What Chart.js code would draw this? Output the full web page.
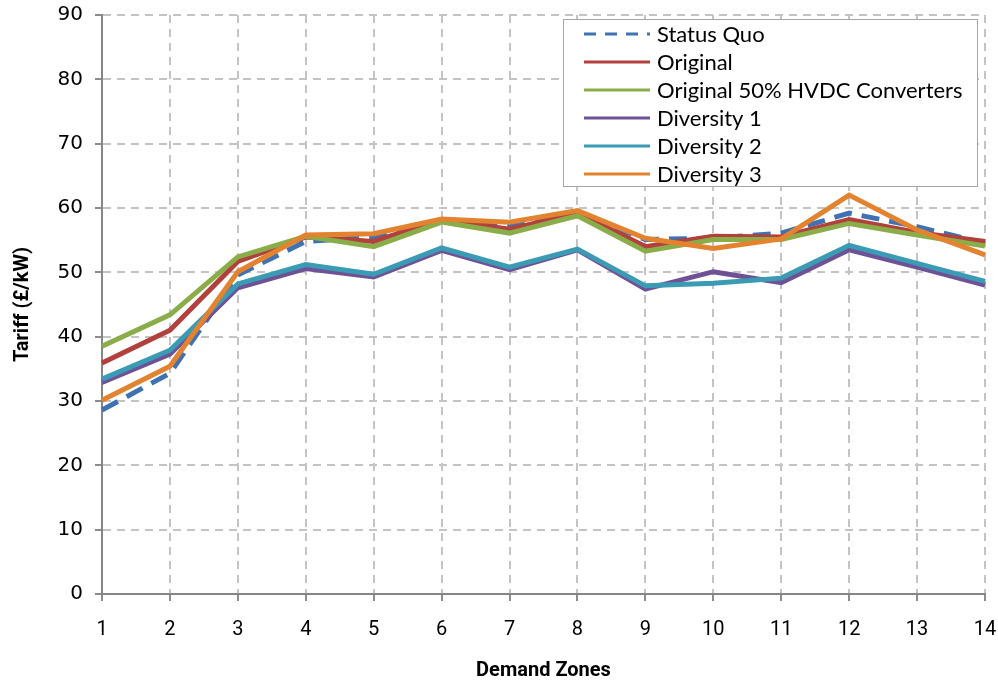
<!DOCTYPE html>
<html>
<head>
<meta charset="utf-8">
<script src="https://cdn.jsdelivr.net/npm/chart.js@4"></script>
<style>
  html, body { margin: 0; padding: 0; background: #fff; }
  #wrap { width: 998px; height: 687px; }
</style>
</head>
<body>
<div id="wrap"><canvas id="tariffCanvas" width="998" height="687"></canvas></div>
<script>
// demand zones 1..14
const zones = ['1', '2', '3', '4', '5', '6', '7', '8', '9', '10', '11', '12', '13', '14'];
const yTicks = [0, 10, 20, 30, 40, 50, 60, 70, 80, 90];

const statusQuo = [28.6, 34.3, 49.6, 54.8, 55.5, 57.9, 57.1, 59.2, 55.1, 55.3, 56.1, 59.2, 57.1, 54.5];
const original = [35.9, 41.0, 51.7, 55.5, 54.8, 58.2, 56.7, 59.2, 54.0, 55.6, 55.5, 58.2, 56.2, 54.8];
const original50 = [38.5, 43.4, 52.4, 55.6, 54.0, 57.8, 56.1, 58.8, 53.3, 55.1, 55.1, 57.6, 55.8, 54.1];
const diversity1 = [32.9, 37.3, 47.6, 50.6, 49.3, 53.4, 50.4, 53.5, 47.4, 50.1, 48.4, 53.5, 50.8, 48.0];
const diversity2 = [33.4, 37.9, 48.2, 51.2, 49.7, 53.8, 50.8, 53.6, 47.9, 48.3, 49.1, 54.2, 51.4, 48.6];
const diversity3 = [30.1, 35.4, 50.1, 55.8, 56.0, 58.3, 57.8, 59.6, 55.3, 53.7, 55.2, 62.0, 56.6, 52.7];

const seriesNames = ['Status Quo', 'Original', 'Original 50% HVDC Converters', 'Diversity 1', 'Diversity 2', 'Diversity 3'];
const seriesData = [statusQuo, original, original50, diversity1, diversity2, diversity3];
const seriesColors = ['#3f72b3', '#b2403c', '#8aad4a', '#6f5296', '#3b9ab4', '#e3832f'];

const legendFont = "Lato, 'Open Sans', sans-serif";

let datasets = seriesData.map((vals, i) => ({
    label: seriesNames[i],
    data: vals,
    borderColor: seriesColors[i],
    backgroundColor: seriesColors[i],
    borderWidth: 5,
    borderDash: i === 0 ? [18, 10] : [],
    pointRadius: 0,
    tension: 0,
    fill: false,
    order: seriesData.length - 1 - i
}));

// legend box drawn inside the plot, like the original
const boxLegend = {
    id: 'boxLegend',
    afterDraw(chart) {
        const ctx = chart.ctx;
        const x = 563, y = 19, w = 414, h = 167;
        ctx.save();
        ctx.fillStyle = '#ffffff';
        ctx.fillRect(x, y, w, h);
        ctx.strokeStyle = '#a6a6a6';
        ctx.lineWidth = 1;
        ctx.strokeRect(x + 0.5, y + 0.5, w, h);
        ctx.font = '22px ' + legendFont;
        ctx.textBaseline = 'middle';
        seriesNames.forEach((name, i) => {
            const ry = y + 15 + i * 28;
            ctx.beginPath();
            ctx.strokeStyle = seriesColors[i];
            ctx.lineWidth = 3;
            ctx.setLineDash(i === 0 ? [12, 9] : []);
            ctx.moveTo(584, ry);
            ctx.lineTo(650, ry);
            ctx.stroke();
            ctx.setLineDash([]);
            ctx.fillStyle = '#000';
            ctx.fillText(name, 657, ry + 1);
        });
        ctx.restore();
    }
};

function drawChart() {
    return new Chart(document.getElementById('tariffCanvas'), {
        type: 'line',
        data: {
            labels: zones,
            datasets: datasets
        },
        options: {
            responsive: false,
            animation: false,
            layout: { padding: { top: 15, right: 13, left: 0, bottom: 0 } },
            plugins: {
                legend: { display: false },
                tooltip: { enabled: false }
            },
            scales: {
                x: {
                    offset: false,
                    grid: {
                        color: '#c4c4c4',
                        lineWidth: 2,
                        tickLength: 7,
                        tickColor: '#8c8c8c',
                        tickWidth: 2,
                        tickBorderDash: []
                    },
                    border: { color: '#868686', width: 2, dash: [8, 6] },
                    ticks: {
                        color: '#000',
                        font: { family: 'Roboto', size: 20 },
                        padding: 17,
                        maxRotation: 0
                    },
                    title: {
                        display: true,
                        text: 'Demand Zones',
                        color: '#000',
                        font: { family: 'Roboto', size: 20, weight: 'bold' },
                        padding: { top: 5 }
                    },
                    afterFit: scale => {
                        scale.height = 93;
                        scale.paddingLeft = 0;
                        scale.paddingRight = 0;
                    }
                },
                y: {
                    min: 0,
                    max: 90,
                    afterBuildTicks: scale => { scale.ticks = yTicks.map(v => ({ value: v })); },
                    grid: {
                        color: '#c4c4c4',
                        lineWidth: 2,
                        tickLength: 7,
                        tickColor: '#8c8c8c',
                        tickWidth: 2,
                        tickBorderDash: []
                    },
                    border: { color: '#868686', width: 2, dash: [8, 6] },
                    ticks: {
                        color: '#000',
                        font: { family: 'DejaVu Sans', size: 20 },
                        padding: 12
                    },
                    title: {
                        display: true,
                        text: 'Tariff (£/kW)',
                        color: '#000',
                        font: { family: 'Roboto', size: 20, weight: 'bold' },
                        padding: { top: 11, bottom: 4 }
                    },
                    afterFit: scale => {
                        scale.width = 102;
                        scale.paddingTop = 0;
                        scale.paddingBottom = 0;
                    }
                }
            }
        },
        plugins: [boxLegend]
    });
}

let tariffChart = null;
const fontLoads = ['20px "DejaVu Sans"', '20px Roboto', 'bold 20px Roboto', '22px Lato']
    .map(f => document.fonts.load(f).catch(() => null));
Promise.all(fontLoads).then(() => { tariffChart = drawChart(); });
</script>
</body>
</html>
